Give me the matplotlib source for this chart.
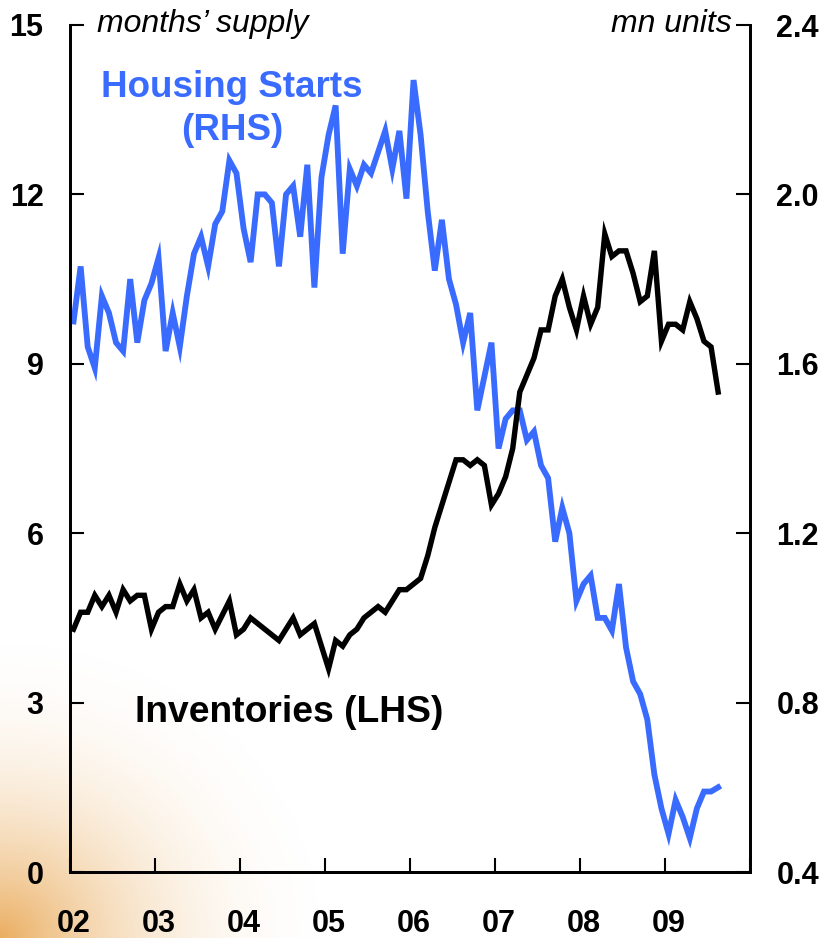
import numpy as np
import pandas as pd
import matplotlib
matplotlib.use("Agg")
import matplotlib.pyplot as plt
from matplotlib.transforms import ScaledTranslation

plt.rcParams['font.family'] = ['Liberation Sans', 'DejaVu Sans']

# monthly, Jan 2002 - Aug 2009
months = pd.date_range("2002-01-01", periods=92, freq="MS")

# housing starts, mn units (RHS)
starts = [1.70, 1.83, 1.64, 1.59, 1.76, 1.72, 1.65, 1.63, 1.80, 1.65, 1.75, 1.79,
          1.85, 1.63, 1.72, 1.64, 1.76, 1.86, 1.90, 1.83, 1.93, 1.96, 2.08, 2.05,
          1.92, 1.84, 2.00, 2.00, 1.98, 1.83, 2.00, 2.02, 1.90, 2.07, 1.78, 2.04,
          2.14, 2.21, 1.86, 2.06, 2.02, 2.07, 2.05, 2.10, 2.15, 2.06, 2.15, 1.99,
          2.27, 2.14, 1.96, 1.82, 1.94, 1.80, 1.74, 1.65, 1.72, 1.49, 1.57, 1.65,
          1.40, 1.47, 1.49, 1.49, 1.42, 1.44, 1.36, 1.33, 1.18, 1.26, 1.20, 1.04,
          1.08, 1.10, 1.00, 1.00, 0.97, 1.08, 0.93, 0.85, 0.82, 0.76, 0.63, 0.55,
          0.49, 0.57, 0.53, 0.48, 0.55, 0.59, 0.59, 0.60]

# inventories, months' supply (LHS)
inventories = [4.3, 4.6, 4.6, 4.9, 4.7, 4.9, 4.6, 5.0, 4.8, 4.9, 4.9, 4.3,
               4.6, 4.7, 4.7, 5.1, 4.8, 5.0, 4.5, 4.6, 4.3, 4.55, 4.8, 4.2,
               4.3, 4.5, 4.4, 4.3, 4.2, 4.1, 4.3, 4.5, 4.2, 4.3, 4.4, 4.0,
               3.6, 4.1, 4.0, 4.2, 4.3, 4.5, 4.6, 4.7, 4.6, 4.8, 5.0, 5.0,
               5.1, 5.2, 5.6, 6.1, 6.5, 6.9, 7.3, 7.3, 7.2, 7.3, 7.2, 6.5,
               6.7, 7.0, 7.5, 8.5, 8.8, 9.1, 9.6, 9.6, 10.2, 10.5, 10.0, 9.6,
               10.2, 9.7, 10.0, 11.3, 10.9, 11.0, 11.0, 10.6, 10.1, 10.2, 11.0, 9.4,
               9.7, 9.7, 9.6, 10.1, 9.8, 9.4, 9.3, 8.5]

years = list(range(2002, 2011))
year_labels = ["02", "03", "04", "05", "06", "07", "08", "09", ""]

blue = "#3A6BFF"
t = months.year + (months.month - 0.5) / 12

fig = plt.figure(figsize=(8.27, 9.38), dpi=100)

# soft orange glow in the lower-left corner
bg = fig.add_axes([0, 0, 1, 1], zorder=-10)
gx, gy = np.meshgrid(np.linspace(0, 827, 414), np.linspace(0, 938, 469))
r = np.sqrt((gx / 360.0) ** 2 + ((938 - gy) / 330.0) ** 2)
a = np.clip(1 - r, 0, 1) ** 2.4 * 0.8
img = np.zeros(gx.shape + (4,))
img[..., 0] = 0.90
img[..., 1] = 0.60
img[..., 2] = 0.22
img[..., 3] = a
bg.imshow(img, extent=[0, 827, 938, 0], aspect="auto")
bg.set_xlim(0, 827)
bg.set_ylim(938, 0)
bg.axis("off")

ax = fig.add_axes([70 / 827, 1 - 872 / 938, 680 / 827, 847 / 938])
ax2 = ax.twinx()

ax2.plot(t, starts, color=blue, lw=4.2, solid_joinstyle="miter")
ax.plot(t, inventories, color="black", lw=3.9, solid_joinstyle="miter")

ax.set_zorder(ax2.get_zorder() + 1)
ax.patch.set_visible(False)
ax2.patch.set_visible(False)

ax.set_xlim(2002, 2010)
ax.set_ylim(0, 15)
ax2.set_ylim(0.4, 2.4)
ax.set_yticks([0, 3, 6, 9, 12, 15])
ax2.set_yticks([0.4, 0.8, 1.2, 1.6, 2.0, 2.4])
ax2.set_yticklabels(["0.4", "0.8", "1.2", "1.6", "2.0", "2.4"])
ax.set_xticks(years)
ax.set_xticklabels(year_labels)

for a_ in (ax, ax2):
    a_.spines["top"].set_visible(False)
    for s in ("left", "right", "bottom"):
        a_.spines[s].set_linewidth(2)
    a_.tick_params(direction="in", length=10, width=1.5, labelsize=22)
    for lab in a_.get_xticklabels() + a_.get_yticklabels():
        lab.set_fontweight("bold")

ax.tick_params(axis="y", pad=19)
ax2.tick_params(axis="y", pad=19)
ax.tick_params(axis="x", pad=26.5)
shift = ScaledTranslation(4 / 100, 0, fig.dpi_scale_trans)
for lab in ax.get_xticklabels():
    lab.set_transform(lab.get_transform() + shift)

fig.text(97 / 827, 1 - 32 / 938, "months\u2019 supply", fontsize=23,
         style="italic", ha="left", va="baseline")
fig.text(732 / 827, 1 - 32 / 938, "mn units", fontsize=23,
         style="italic", ha="right", va="baseline")
fig.text(232 / 827, 1 - 97 / 938, "Housing Starts", fontsize=26.5,
         fontweight="bold", color=blue, ha="center", va="baseline")
fig.text(232 / 827, 1 - 140 / 938, "(RHS)", fontsize=26.5,
         fontweight="bold", color=blue, ha="center", va="baseline")
fig.text(135 / 827, 1 - 722 / 938, "Inventories (LHS)", fontsize=26.8,
         fontweight="bold", color="black", ha="left", va="baseline")

fig.savefig("out.png", dpi=100)
